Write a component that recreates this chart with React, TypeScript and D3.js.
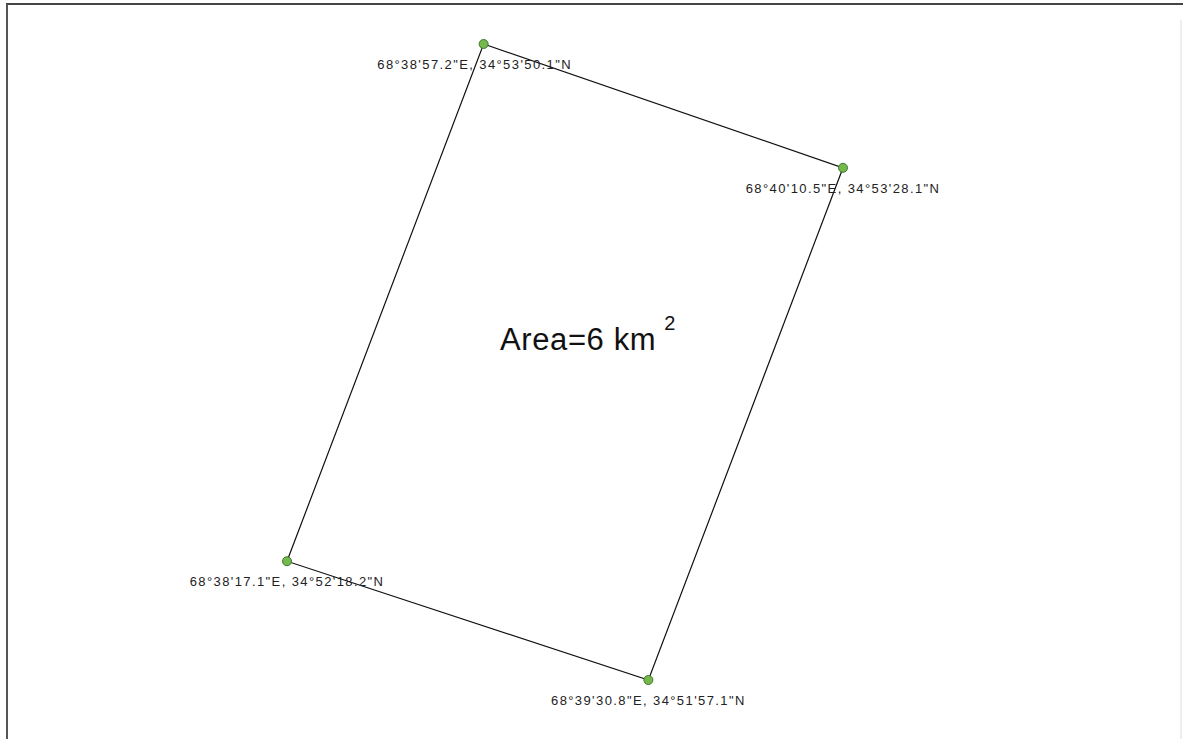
import React from 'react';
import * as d3 from 'd3';

// Corner points of the surveyed block (decimal degrees)
const names = ['NW', 'NE', 'SE', 'SW'];
const lons = [68.649222, 68.669583, 68.658556, 68.638083];
const lats = [34.897250, 34.891139, 34.865861, 34.871722];
const labels = [
  '68°38\'57.2"E, 34°53\'50.1"N',
  '68°40\'10.5"E, 34°53\'28.1"N',
  '68°39\'30.8"E, 34°51\'57.1"N',
  '68°38\'17.1"E, 34°52\'18.2"N',
];
const areaKm2 = 6;

const W = 1183;
const H = 739;

const App: React.FC = () => {
  const x = d3.scaleLinear()
    .domain([d3.min(lons)!, d3.max(lons)!])
    .range([287, 843]);
  const y = d3.scaleLinear()
    .domain([d3.min(lats)!, d3.max(lats)!])
    .range([680, 44]);

  const pts: [number, number][] = lons.map((lo, i) => [x(lo), y(lats[i])]);
  const line = d3.line().curve(d3.curveLinearClosed);

  return (
    <svg width={W} height={H} style={{ position: 'absolute', left: 0, top: 0, background: '#fff' }}
      fontFamily="'Liberation Sans', Arial, sans-serif">
      {/* map frame */}
      <line x1={6} y1={4} x2={W} y2={4} stroke="#444" strokeWidth={2} />
      <line x1={7} y1={4} x2={7} y2={H} stroke="#555" strokeWidth={2} />
      <line x1={1181} y1={20} x2={1181} y2={H} stroke="#ddd" strokeWidth={1} />

      <path d={line(pts) || undefined} fill="none" stroke="#111" strokeWidth={1.2} />

      {pts.map((p, i) => (
        <g key={names[i]}>
          <text x={p[0] - (i === 0 ? 9 : 0)} y={p[1] + 25} textAnchor="middle" fontSize={13}
            letterSpacing={1.4} fill="#222">
            {labels[i]}
          </text>
          <circle cx={p[0]} cy={p[1]} r={4.5} fill="#74b84e" stroke="#3d7a2a" strokeWidth={1} />
        </g>
      ))}

      <text x={500} y={350} fontSize={31} letterSpacing={0.6} fill="#111">
        {`Area=${areaKm2} km`}
        <tspan dx={8} dy={-20} fontSize={20}>2</tspan>
      </text>
    </svg>
  );
};

export default App;
